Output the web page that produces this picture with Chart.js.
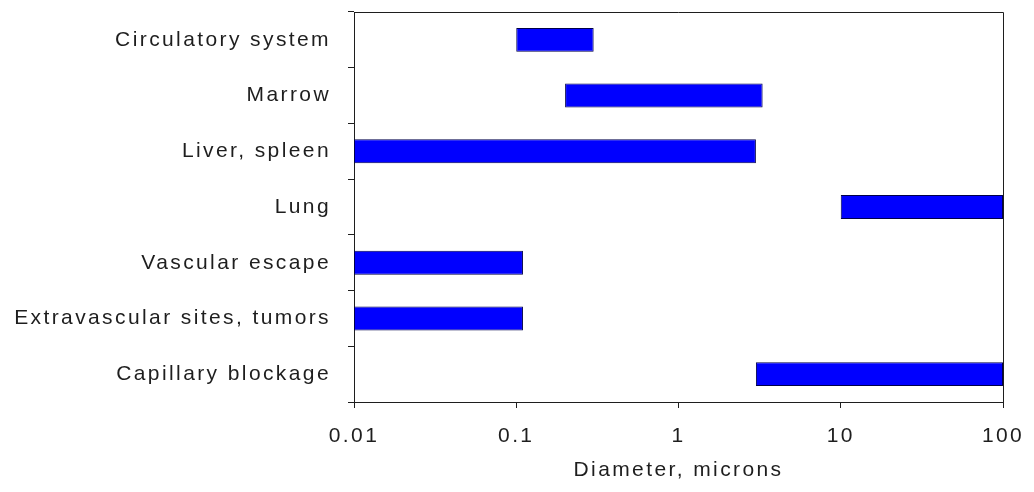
<!DOCTYPE html>
<html>
<head>
<meta charset="utf-8">
<title>Particle diameter and biodistribution</title>
<script src="https://cdn.jsdelivr.net/npm/chart.js@4/dist/chart.umd.min.js"></script>
<style>
  html, body { margin: 0; padding: 0; background: #ffffff; }
  #wrap { width: 1034px; height: 492px; position: relative; }
</style>
</head>
<body>
<div id="wrap"><canvas id="chart" width="1034" height="492"></canvas></div>
<script>
// Sites in the body, top to bottom
const categories = [
  'Circulatory system',
  'Marrow',
  'Liver, spleen',
  'Lung',
  'Vascular escape',
  'Extravascular sites, tumors',
  'Capillary blockage'
];
// Diameter range (microns) that ends up at each site
const rangeStart = [0.1, 0.2, 0.01, 10, 0.01, 0.01, 3];
const rangeEnd   = [0.3, 3.3, 3, 100, 0.11, 0.11, 100];

// Decade ticks on the diameter axis
const tickValues = [0.01, 0.1, 1, 10, 100];
const tickLabels = ['0.01', '0.1', '1', '10', '100'];
const axisTitle = 'Diameter, microns';

const ranges = categories.map((c, i) => [rangeStart[i], rangeEnd[i]]);

const FONT = "'Liberation Sans', Arial, sans-serif";
const INK = '#1e1e1e';

// Wide letter spacing for all canvas text, plus the top and right frame lines
const framePlugin = {
  id: 'frame',
  beforeDraw(chart) {
    chart.ctx.letterSpacing = '2.4px';
  },
  afterDraw(chart) {
    const { ctx, chartArea } = chart;
    ctx.save();
    ctx.strokeStyle = INK;
    ctx.lineWidth = 1;
    ctx.beginPath();
    ctx.moveTo(chartArea.left, chartArea.top + 0.5);
    ctx.lineTo(chartArea.right + 0.5, chartArea.top + 0.5);
    ctx.lineTo(chartArea.right + 0.5, chartArea.bottom);
    ctx.stroke();
    ctx.restore();
  }
};

new Chart(document.getElementById('chart'), {
  type: 'bar',
  data: {
    labels: categories,
    datasets: [{
      data: ranges,
      backgroundColor: '#0000ff',
      borderColor: '#00004a',
      borderWidth: 1,
      borderSkipped: false,
      categoryPercentage: 1,
      barPercentage: 0.43
    }]
  },
  options: {
    indexAxis: 'y',
    responsive: false,
    animation: false,
    layout: { padding: { top: 12, right: 31, left: 0, bottom: 0 } },
    plugins: {
      legend: { display: false },
      tooltip: { enabled: false }
    },
    scales: {
      x: {
        type: 'logarithmic',
        min: 0.01,
        max: 100,
        afterBuildTicks(scale) {
          scale.ticks = tickValues.map(v => ({ value: v }));
        },
        afterFit(scale) {
          scale.height = 90;
          scale.paddingLeft = 0;
          scale.paddingRight = 0;
        },
        ticks: {
          autoSkip: false,
          maxRotation: 0,
          padding: 16,
          color: INK,
          font: { family: FONT, size: 21 },
          callback(value) {
            const i = tickValues.indexOf(value);
            return i >= 0 ? tickLabels[i] : '';
          }
        },
        grid: {
          drawOnChartArea: false,
          drawTicks: true,
          tickLength: 6,
          color: INK
        },
        border: { color: INK, width: 1 },
        title: {
          display: true,
          text: axisTitle,
          color: INK,
          font: { family: FONT, size: 21 },
          padding: { top: 0, bottom: 9 }
        }
      },
      y: {
        afterFit(scale) {
          scale.width = 354;
          scale.paddingTop = 0;
          scale.paddingBottom = 0;
        },
        ticks: {
          padding: 17,
          color: INK,
          font: { family: FONT, size: 21 }
        },
        grid: {
          drawOnChartArea: false,
          drawTicks: true,
          tickLength: 6,
          offset: true,
          color: INK
        },
        border: { color: INK, width: 1 }
      }
    }
  },
  plugins: [framePlugin]
});
</script>
</body>
</html>
